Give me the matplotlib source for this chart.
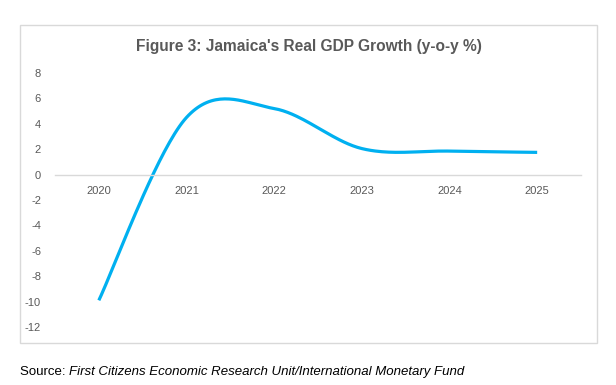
import numpy as np
import matplotlib
matplotlib.use("Agg")
import matplotlib.pyplot as plt
from matplotlib.patches import Rectangle

years = ["2020", "2021", "2022", "2023", "2024", "2025"]
growth = [-9.9, 4.5, 5.2, 2.05, 1.85, 1.75]

TEXT_GREY = "#595959"
LINE_BLUE = "#00B0F0"

plt.rcParams["font.family"] = ["Liberation Sans", "DejaVu Sans"]


def smooth_curve(x, y, steps=40):
    # Excel-style smoothed line: cubic Bezier segments with Catmull-Rom control points
    pts = np.column_stack([x, y]).astype(float)
    padded = np.vstack([pts[0], pts, pts[-1]])
    out = []
    t = np.linspace(0, 1, steps)[:, None]
    for i in range(len(pts) - 1):
        p0 = padded[i + 1]
        p3 = padded[i + 2]
        c1 = p0 + (padded[i + 2] - padded[i]) / 6
        c2 = p3 - (padded[i + 3] - padded[i + 1]) / 6
        seg = ((1 - t) ** 3) * p0 + 3 * ((1 - t) ** 2) * t * c1 + 3 * (1 - t) * t ** 2 * c2 + t ** 3 * p3
        out.append(seg if i == 0 else seg[1:])
    curve = np.vstack(out)
    return curve[:, 0], curve[:, 1]


fig = plt.figure(figsize=(6.16, 3.85), dpi=100)

# chart frame
W, H = 616, 385
fig.patches.append(Rectangle((20 / W, 1 - 343 / H), 577 / W, 318 / H, transform=fig.transFigure,
                             fill=False, ec="#D9D9D9", lw=1))

ax = fig.add_axes([55 / W, 1 - 327 / H, 526 / W, 254 / H])
xs = np.arange(len(years))
cx, cy = smooth_curve(xs, growth)
ax.plot(cx, cy, color=LINE_BLUE, lw=2.3, solid_capstyle="butt")

for side in ["top", "right", "left"]:
    ax.spines[side].set_visible(False)
ax.spines["bottom"].set_position(("data", 0))
ax.spines["bottom"].set_color("#D9D9D9")
ax.spines["bottom"].set_linewidth(1)

ax.set_xlim(-0.5, len(years) - 0.5)
ax.set_ylim(-12, 8)
ax.set_yticks(range(-12, 9, 2))
ax.set_yticklabels([str(v) for v in range(-12, 9, 2)])
ax.set_xticks(xs)
ax.set_xticklabels(years)
ax.tick_params(axis="both", length=0, labelsize=8, labelcolor=TEXT_GREY)
ax.tick_params(axis="y", pad=10)
ax.tick_params(axis="x", pad=8)
ax.patch.set_alpha(0)

fig.text(309 / W, 1 - 47 / H, "Figure 3: Jamaica's Real GDP Growth (y-o-y %)", ha="center", va="center",
         fontsize=11.2, fontweight="bold", color=TEXT_GREY)

src = fig.text(20 / W, 1 - 372 / H, "Source: ", ha="left", va="center", fontsize=9.5, color="black")
fig.canvas.draw()
bb = src.get_window_extent()
fig.text(bb.x1 / W, 1 - 372 / H, "First Citizens Economic Research Unit/International Monetary Fund",
         ha="left", va="center", fontsize=9.5, style="italic", color="black")

fig.savefig("out.png", dpi=100)
